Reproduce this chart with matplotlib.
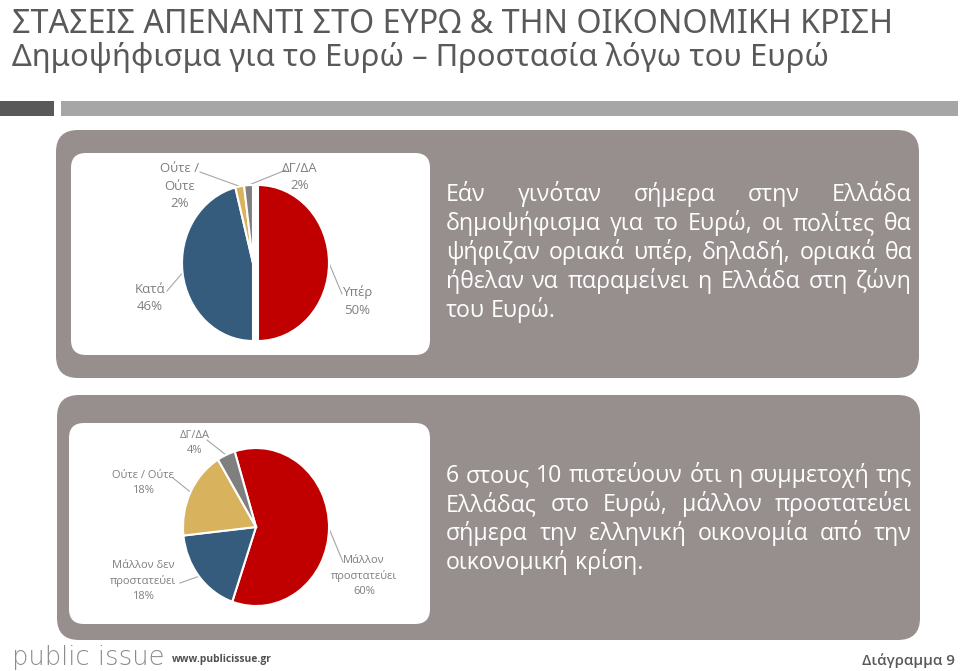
import matplotlib
matplotlib.use("Agg")
import matplotlib.pyplot as plt
from matplotlib.patches import FancyBboxPatch, Rectangle
import numpy as np

# ---------------- data ----------------
title = "ΣΤΑΣΕΙΣ ΑΠΕΝΑΝΤΙ ΣΤΟ ΕΥΡΩ & ΤΗΝ ΟΙΚΟΝΟΜΙΚΗ ΚΡΙΣΗ"
subtitle = "Δημοψήφισμα για το Ευρώ – Προστασία λόγω του Ευρώ"

pie1_labels = ["Υπέρ", "Κατά", "Ούτε /\nΟύτε", "ΔΓ/ΔΑ"]
pie1_values = [50, 46, 2, 2]
pie2_labels = ["Μάλλον\nπροστατεύει", "Μάλλον δεν\nπροστατεύει", "Ούτε / Ούτε", "ΔΓ/ΔΑ"]
pie2_values = [60, 18, 18, 4]

text1_lines = [
    "Εάν γινόταν σήμερα στην Ελλάδα",
    "δημοψήφισμα για το Ευρώ, οι πολίτες θα",
    "ψήφιζαν οριακά υπέρ, δηλαδή, οριακά θα",
    "ήθελαν να παραμείνει η Ελλάδα στη ζώνη",
    "του Ευρώ.",
]
text2_lines = [
    "6 στους 10 πιστεύουν ότι η συμμετοχή της",
    "Ελλάδας στο Ευρώ, μάλλον προστατεύει",
    "σήμερα την ελληνική οικονομία από την",
    "οικονομική κρίση.",
]
footer_brand = "public issue"
footer_url = "www.publicissue.gr"
footer_chart = "Διάγραμμα 9"

# ---------------- style ----------------
W, H = 960, 671
RED, BLUE, YELLOW, GREY = "#C00000", "#355C7D", "#D8B25C", "#7F7F7F"
PANEL = "#978F8D"
LABEL_C = "#7F7F7F"
LEADER_C = "#A6A6A6"
TITLE_C = "#595959"
FONT = ["Open Sans", "DejaVu Sans"]
NARROW = ["Noto Sans Condensed", "DejaVu Sans Condensed", "Liberation Sans Narrow",
          "Noto Sans", "DejaVu Sans"]

fig = plt.figure(figsize=(W / 100, H / 100), dpi=100)
bg = fig.add_axes([0, 0, 1, 1])
bg.set_xlim(0, W)
bg.set_ylim(H, 0)
bg.axis("off")
renderer = fig.canvas.get_renderer()


def fit_text(x, y, s, width, **kw):
    t = bg.text(x, y, s, fontsize=20, **kw)
    w = t.get_window_extent(renderer).width
    t.set_fontsize(20 * width / w)
    return t


# titles
fit_text(12, 33, title, 881, color=TITLE_C, family=NARROW, fontstretch="condensed",
         weight="medium", va="baseline")
fit_text(12, 66, subtitle, 816, color=TITLE_C, family=NARROW, fontstretch="condensed",
         weight="medium", va="baseline")

# decorative bars
bg.add_patch(Rectangle((0, 101), 54, 15, color="#595959", lw=0))
bg.add_patch(Rectangle((61, 101), 897, 15, color="#A6A6A6", lw=0))


def panel(x0, y0, x1, y1, r, color):
    bg.add_patch(FancyBboxPatch((x0 + r, y0 + r), (x1 - x0) - 2 * r, (y1 - y0) - 2 * r,
                                boxstyle=f"round,pad={r},rounding_size={r}",
                                fc=color, ec="none", lw=0))


panel(56, 130, 919, 378, 22, PANEL)
panel(71, 153, 430, 355, 15, "white")
panel(57, 395, 920, 640, 22, PANEL)
panel(69, 423, 430, 624, 15, "white")


# justified text blocks
def justified(lines, x0, x1, baselines, fs):
    for i, (line, yb) in enumerate(zip(lines, baselines)):
        words = line.split()
        ts = [bg.text(0, yb, w, fontsize=fs, color="white", family=FONT, va="baseline")
              for w in words]
        widths = [t.get_window_extent(renderer).width for t in ts]
        if i == len(lines) - 1 or len(words) == 1:
            sp = bg.text(0, 0, "a a", fontsize=fs, family=FONT)
            sp2 = bg.text(0, 0, "aa", fontsize=fs, family=FONT)
            gap = sp.get_window_extent(renderer).width - sp2.get_window_extent(renderer).width
            sp.remove(); sp2.remove()
        else:
            gap = (x1 - x0 - sum(widths)) / (len(words) - 1)
        x = x0
        for t, w in zip(ts, widths):
            t.set_x(x)
            x += w + gap


def fit_size(lines, width):
    best = 0
    for line in lines[:-1]:
        t = bg.text(0, 0, line, fontsize=20, family=FONT)
        best = max(best, t.get_window_extent(renderer).width)
        t.remove()
    return 20 * width / best


fs_text = min(fit_size(text1_lines, 462), fit_size(text2_lines, 462))
justified(text1_lines, 446, 912, [201, 230, 259, 288, 317], fs_text)
justified(text2_lines, 446, 912, [482, 511, 540, 569], fs_text)


# pies
def make_pie(values, colors, cx, cy, rx, ry, start, explode):
    ax = fig.add_axes([(cx - 1.2 * rx) / W, (H - cy - 1.2 * ry) / H, 2.4 * rx / W, 2.4 * ry / H])
    wedges, _ = ax.pie(values, colors=colors, startangle=start, counterclock=False,
                       explode=explode,
                       wedgeprops=dict(edgecolor="white", linewidth=1.5))
    ax.set_aspect("auto")
    ax.set_xlim(-1.2, 1.2)
    ax.set_ylim(-1.2, 1.2)
    ax.axis("off")
    pts = []
    for wdg in wedges:
        a = np.deg2rad((wdg.theta1 + wdg.theta2) / 2)
        c = wdg.center
        p = (c[0] + wdg.r * np.cos(a), c[1] + wdg.r * np.sin(a))
        disp = ax.transData.transform(p)
        pts.append(bg.transData.inverted().transform(disp))
    return pts


def label_pie(labels, values, pts, centers, starts, fs, ls):
    for lab, v, p, c, s in zip(labels, values, pts, centers, starts):
        bg.text(c[0], c[1], f"{lab}\n{v}%", ha="center", va="center", fontsize=fs,
                color=LABEL_C, family=FONT, linespacing=ls)
        bg.plot([s[0], p[0]], [s[1], p[1]], color=LEADER_C, lw=0.8)


cols = [RED, BLUE, YELLOW, GREY]
pts1 = make_pie(pie1_values, cols, 253, 263, 71, 78, 90, [0.07, 0, 0, 0])
label_pie(pie1_labels, pie1_values, pts1,
          centers=[(357, 301), (150, 298), (180, 186), (300, 177)],
          starts=[(342, 294), (167, 291), (200, 172), (286, 170)],
          fs=9.5, ls=1.45)

pts2 = make_pie(pie2_values, cols, 256, 527, 73, 79, 107, None)
label_pie(pie2_labels, pie2_values, pts2,
          centers=[(364, 576), (143, 581), (143, 483), (195, 443)],
          starts=[(343, 562), (180, 583), (173, 478), (207, 440)],
          fs=8, ls=1.45)

# footer
fit_text(12, 665, footer_brand, 153, color="#8C8C8C",
         family=["DejaVu Sans"], weight="light", va="baseline")
fit_text(172, 662, footer_url, 99, color="#505050", family=FONT, weight="bold", va="baseline")
fit_text(862, 665, footer_chart, 93, color="#595959", family=FONT, weight="semibold",
         va="baseline")

fig.savefig("out.png", dpi=100)
